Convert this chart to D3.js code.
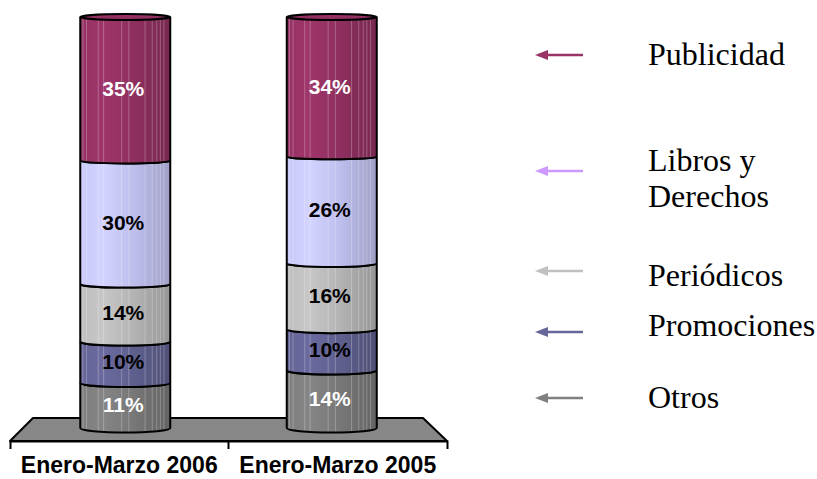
<!DOCTYPE html>
<html>
<head>
<meta charset="utf-8">
<script src="https://cdn.jsdelivr.net/npm/d3@7"></script>
<style>
  body { margin: 0; background: #fff; }
  svg { display: block; }
  .pct { font-family: "Liberation Sans", Arial, sans-serif; font-weight: bold; font-size: 21px; }
  .cat text { font-family: "Liberation Sans", Arial, sans-serif; font-weight: bold; font-size: 23px; fill: #000; }
  .legend text { font-family: "Liberation Serif", "Times New Roman", serif; font-size: 32px; fill: #000; }
</style>
</head>
<body>
<div id="chart-area"></div>
<script>
// chart data
const categories = ["Enero-Marzo 2006", "Enero-Marzo 2005"];
const series = ["Publicidad", "Libros y Derechos", "Periódicos", "Promociones", "Otros"];
const values2006 = [35, 30, 14, 10, 11];
const values2005 = [34, 26, 16, 10, 14];
const barColors = ["#993366", "#ccccff", "#c0c0c0", "#666699", "#808080"];
const legendColors = ["#993366", "#cc99ff", "#c0c0c0", "#666699", "#808080"];
const labelColors = ["#fff", "#000", "#000", "#000", "#fff"];
const legendLines = [["Publicidad"], ["Libros y", "Derechos"], ["Periódicos"], ["Promociones"], ["Otros"]];

var width = 817, height = 479;

var svg = d3.select("#chart-area").append("svg")
  .attr("width", width)
  .attr("height", height);

// build rows for d3.stack
let table = categories.map((c, i) => {
  let row = {cat: c};
  series.forEach((s, j) => row[s] = (i == 0 ? values2006 : values2005)[j]);
  return row;
});

// Otros sits at the bottom of the stack
let stack = d3.stack().keys(series.slice().reverse())(table);

let y = d3.scaleLinear().domain([0, 100]).range([428, 17]);
let x = d3.scaleBand().domain(categories).range([22, 435]);
let xFloor = d3.scaleBand().domain(categories).range([10, 447]);
let barW = 90;
let cx = c => x(c) + x.bandwidth() / 2;

// ellipse depth grows toward the floor
let ry = yy => 1.5 + 3 * (yy - 17) / 411;

let defs = svg.append("defs");
barColors.forEach((col, i) => {
  let c = d3.color(col);
  let g = defs.append("linearGradient").attr("id", "grad" + i)
    .attr("x1", "0%").attr("x2", "100%").attr("y1", "0%").attr("y2", "0%");
  g.append("stop").attr("offset", "0%").attr("stop-color", c.darker(0.05));
  g.append("stop").attr("offset", "25%").attr("stop-color", c.brighter(0.1));
  g.append("stop").attr("offset", "60%").attr("stop-color", c.darker(0.2));
  g.append("stop").attr("offset", "100%").attr("stop-color", c.darker(0.7));
});

// floor
let fx0 = xFloor.range()[0], fx1 = xFloor.range()[1];
let floorY = 441, floorTop = 418;
svg.append("path")
  .attr("d", `M${fx0},${floorY} L${fx0 + 23},${floorTop} L${fx1 - 24},${floorTop} L${fx1},${floorY} Z`)
  .attr("fill", "#878787")
  .attr("stroke", "#000")
  .attr("stroke-width", 2)
  .attr("stroke-linejoin", "round");

function segPath(x0, x1, yt, yb) {
  let rx = (x1 - x0) / 2;
  return `M${x0},${yt} L${x0},${yb} A${rx},${ry(yb)} 0 0 0 ${x1},${yb} L${x1},${yt} A${rx},${ry(yt)} 0 0 1 ${x0},${yt} Z`;
}

let stripes = [0.03, 0.07, 0.2, 0.26, 0.46, 0.54, 0.72, 0.8, 0.85, 0.89, 0.93];

categories.forEach((c, ci) => {
  let x0 = cx(c) - barW / 2, x1 = cx(c) + barW / 2;
  let g = svg.append("g").attr("class", "cyl");

  // segments, bottom first
  stack.forEach(layer => {
    let si = series.indexOf(layer.key);
    let d = layer[ci];
    let yt = y(d[1]), yb = y(d[0]);
    let seg = g.append("g");
    let clipId = `clip${ci}_${si}`;
    defs.append("clipPath").attr("id", clipId)
      .append("path").attr("d", segPath(x0, x1, yt, yb));
    seg.append("path")
      .attr("d", segPath(x0, x1, yt, yb))
      .attr("fill", `url(#grad${si})`);
    seg.append("g").attr("clip-path", `url(#${clipId})`)
      .selectAll("line").data(stripes).enter().append("line")
      .attr("x1", f => x0 + f * barW).attr("x2", f => x0 + f * barW)
      .attr("y1", yt - 6).attr("y2", yb + 6)
      .attr("stroke", "#fff").attr("stroke-opacity", 0.25).attr("stroke-width", 1);
    seg.append("path")
      .attr("d", segPath(x0, x1, yt, yb))
      .attr("fill", "none")
      .attr("stroke", "#000")
      .attr("stroke-width", 2);
  });

  // top cap
  let topY = y(100);
  g.append("ellipse")
    .attr("cx", cx(c)).attr("cy", topY)
    .attr("rx", barW / 2).attr("ry", 3)
    .attr("fill", d3.color(barColors[0]).darker(0.1))
    .attr("stroke", "#000").attr("stroke-width", 2);

  // percentage labels
  stack.forEach(layer => {
    let si = series.indexOf(layer.key);
    let d = layer[ci];
    g.append("text")
      .attr("class", "pct")
      .attr("x", cx(c) - 2)
      .attr("y", (y(d[0]) + y(d[1])) / 2 + 7)
      .attr("text-anchor", "middle")
      .attr("fill", labelColors[si])
      .text((d[1] - d[0]) + "%");
  });
});

// category axis
let xAxis = d3.axisBottom(xFloor).tickSizeInner(0).tickSizeOuter(8).tickPadding(16);
let ax = svg.append("g")
  .attr("class", "cat")
  .attr("transform", `translate(0, ${floorY})`)
  .call(xAxis);
ax.select(".domain").attr("stroke", "#000").attr("stroke-width", 2);
ax.selectAll(".tick line").remove();
ax.append("line")
  .attr("x1", xFloor(categories[1])).attr("x2", xFloor(categories[1]))
  .attr("y1", 0).attr("y2", 8)
  .attr("stroke", "#000").attr("stroke-width", 2);

// legend
let legendY = [55, 171, 271, 332, 398];
let legendTextY = [65, 171, 286, 336, 408];
let lg = svg.append("g").attr("class", "legend");
series.forEach((s, i) => {
  let yy = legendY[i];
  lg.append("line")
    .attr("x1", 543).attr("x2", 583).attr("y1", yy).attr("y2", yy)
    .attr("stroke", legendColors[i]).attr("stroke-width", 2.5);
  lg.append("path")
    .attr("d", `M535,${yy} L548,${yy - 5} L548,${yy + 5} Z`)
    .attr("fill", legendColors[i]);
  let t = lg.append("text").attr("x", 648).attr("y", legendTextY[i]);
  legendLines[i].forEach((ln, k) => {
    t.append("tspan").attr("x", 648).attr("dy", k == 0 ? 0 : 36).text(ln);
  });
});
</script>
</body>
</html>
